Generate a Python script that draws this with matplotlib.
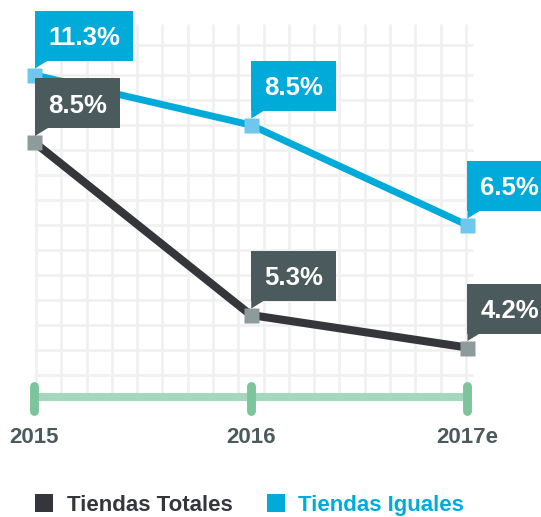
import numpy as np
import matplotlib
matplotlib.use("Agg")
import matplotlib.pyplot as plt
from matplotlib.patches import Polygon, Rectangle
from matplotlib.transforms import Affine2D

# ---- data ----
years = ["2015", "2016", "2017e"]
series_names = ["Tiendas Totales", "Tiendas Iguales"]
totales_labels = ["8.5%", "5.3%", "4.2%"]
iguales_labels = ["11.3%", "8.5%", "6.5%"]
# vertical position of each point as drawn, in grid rows above the baseline
totales_level = [9.3, 2.4, 1.1]
iguales_level = [12.0, 10.0, 6.0]

# ---- style ----
BLUE = "#00aad9"
BLUE_MARK = "#6fc7ee"
DARK = "#35363b"
BOX_DARK = "#4b5a5c"
GRAY_MARK = "#8e9b9b"
GRID = "#f0f0f0"
GREEN_L = "#a4d7bd"
GREEN_D = "#7cc49c"
YEAR_C = "#4b5a5c"
FONT = "Liberation Sans"

W, H = 541, 517
fig = plt.figure(figsize=(W / 100, H / 100), dpi=100)
ax = fig.add_axes([0, 0, 1, 1])
ax.set_xlim(-0.1595, 2.3422)
ax.set_ylim(-5.68, 15)
ax.axis("off")

# grid
vx = np.linspace(0.007, 1.995, 18)
ax.vlines(vx, -0.72, 14.04, color=GRID, lw=1.9, zorder=0)
hy = [13.2] + list(range(12, -1, -1))
ax.hlines(hy, 0.0, 2.028, color=GRID, lw=1.9, zorder=0)

# timeline axis
x = np.arange(len(years))
ax.plot([x[0], x[-1]], [-0.88, -0.88], color=GREEN_L, lw=5.8,
        solid_capstyle="butt", zorder=1)
for xi in x:
    ax.plot([xi, xi], [-0.44, -1.44], color=GREEN_D, lw=6.4,
            solid_capstyle="round", zorder=1)
for xi, yr in zip(x, years):
    ax.text(xi, -2.5, yr, ha="center", va="center", fontsize=16,
            fontweight="bold", color=YEAR_C, family=FONT)

# lines + markers
ax.plot(x, totales_level, color=DARK, lw=5.8, zorder=2)
ax.plot(x, iguales_level, color=BLUE, lw=5.0, zorder=2)
ax.plot(x, totales_level, "s", ms=10.8, mfc=GRAY_MARK, mec="none", zorder=3)
ax.plot(x, iguales_level, "s", ms=10.8, mfc=BLUE_MARK, mec="none", zorder=3)

fig.canvas.draw()
renderer = fig.canvas.get_renderer()

LABEL_PT = 18.5
LABEL_PX = LABEL_PT * 100 / 72.0
BOX_H = 50.0
GAP = 14.0
PADX = 13.0


def callout(xi, yi, txt, color):
    x0, y0 = ax.transData.transform((xi, yi))
    cap = 0.716 * LABEL_PX
    left = x0 + 0.5
    bottom = y0 + GAP
    t = fig.text((left + PADX) / W, (bottom + (BOX_H - cap) / 2) / H, txt,
                 ha="left", va="baseline", fontsize=LABEL_PT,
                 fontweight="bold", color="white", family=FONT, zorder=7)
    bb = t.get_window_extent(renderer)
    width = bb.width + 2 * PADX
    fig.add_artist(Rectangle((left / W, bottom / H), width / W, BOX_H / H,
                             transform=fig.transFigure, fc=color, ec="none",
                             zorder=6))
    tri = Polygon([[0.5, GAP + 0.5], [13.5, GAP + 0.5], [0.5, 6.5]],
                  closed=True, fc=color, ec="none", zorder=6,
                  transform=Affine2D().translate(x0, y0))
    fig.add_artist(tri)


for xi, yi, t in zip(x, iguales_level, iguales_labels):
    callout(xi, yi, t, BLUE)
for xi, yi, t in zip(x, totales_level, totales_labels):
    callout(xi, yi, t, BOX_DARK)

# legend
legend_cols = [DARK, BLUE]
sq_x = [35, 267]
tx_x = [67, 298]
for name, c, sx, tx in zip(series_names, legend_cols, sq_x, tx_x):
    fig.add_artist(Rectangle((sx / W, 1 - 512 / H), 18 / W, 18 / H,
                             transform=fig.transFigure, fc=c, ec="none"))
    fig.text(tx / W, 1 - 511 / H, name, ha="left", va="baseline",
             fontsize=16, fontweight="bold", color=c, family=FONT)

fig.savefig("out.png", dpi=100)
